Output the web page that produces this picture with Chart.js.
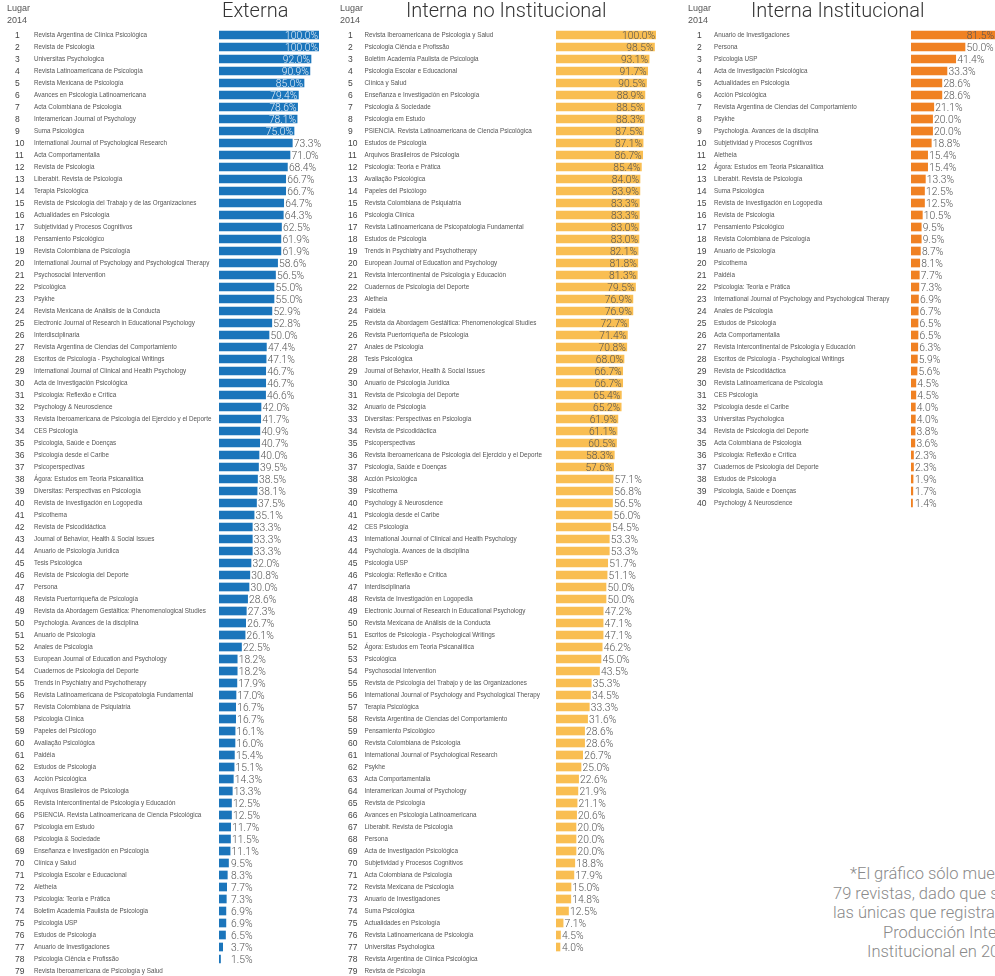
<!DOCTYPE html>
<html><head><meta charset="utf-8">
<script src="https://cdn.jsdelivr.net/npm/chart.js@4.4.1/dist/chart.umd.min.js"></script>
<style>
html,body{margin:0;padding:0;background:#fff;width:995px;height:976px;overflow:hidden;position:relative}
canvas{position:absolute;top:0}
.t{position:absolute;top:0;font-family:Roboto,'Liberation Sans',sans-serif;font-weight:300;font-size:20px;line-height:20px;color:#333;white-space:nowrap}
.lug{position:absolute;top:2px;font-family:'Liberation Sans',Arial,sans-serif;font-size:9px;line-height:12px;color:#555}
.note{position:absolute;font-family:Roboto,'Liberation Sans',sans-serif;font-weight:300;font-size:16.5px;line-height:19.5px;color:#8a8a8a;white-space:nowrap}
</style></head><body>
<canvas id="c1" width="330" height="980" style="left:0"></canvas>
<canvas id="c2" width="330" height="980" style="left:335px"></canvas>
<canvas id="c3" width="340" height="520" style="left:685px"></canvas>
<div class="lug" style="left:7px">Lugar<br>2014</div>
<div class="lug" style="left:340px">Lugar<br>2014</div>
<div class="lug" style="left:688px">Lugar<br>2014</div>
<div class="t" style="left:222px">Externa</div>
<div class="t" style="left:406px">Interna no Institucional</div>
<div class="t" style="left:751px">Interna Institucional</div>
<div class="note" style="left:850px;top:864px">*El gráfico sólo muestra 40 de las</div>
<div class="note" style="left:833px;top:883.5px">79 revistas, dado que son</div>
<div class="note" style="left:833px;top:903px">las únicas que registraron</div>
<div class="note" style="left:883px;top:922.5px">Producción Interna</div>
<div class="note" style="left:867px;top:942px">Institucional en 2014</div>
<script>
const lugar = [1,2,3,4,5,6,7,8,9,10,11,12,13,14,15,16,17,18,19,20,21,22,23,24,25,26,27,28,29,30,31,32,33,34,35,36,37,38,39,40,41,42,43,44,45,46,47,48,49,50,51,52,53,54,55,56,57,58,59,60,61,62,63,64,65,66,67,68,69,70,71,72,73,74,75,76,77,78,79];

const revistasExterna = [
"Revista Argentina de Clínica Psicológica","Revista de Psicología","Universitas Psychologica","Revista Latinoamericana de Psicología","Revista Mexicana de Psicología",
"Avances en Psicología Latinoamericana","Acta Colombiana de Psicología","Interamerican Journal of Psychology","Suma Psicológica","International Journal of Psychological Research",
"Acta Comportamentalia","Revista de Psicología","Liberabit. Revista de Psicología","Terapia Psicológica","Revista de Psicología del Trabajo y de las Organizaciones",
"Actualidades en Psicología","Subjetividad y Procesos Cognitivos","Pensamiento Psicológico","Revista Colombiana de Psicología","International Journal of Psychology and Psychological Therapy",
"Psychosocial Intervention","Psicológica","Psykhe","Revista Mexicana de Análisis de la Conducta","Electronic Journal of Research in Educational Psychology",
"Interdisciplinaria","Revista Argentina de Ciencias del Comportamiento","Escritos de Psicología - Psychological Writings","International Journal of Clinical and Health Psychology","Acta de Investigación Psicológica",
"Psicologia: Reflexão e Crítica","Psychology & Neuroscience","Revista Iberoamericana de Psicología del Ejercicio y el Deporte","CES Psicología","Psicologia, Saúde e Doenças",
"Psicología desde el Caribe","Psicoperspectivas","Ágora: Estudos em Teoria Psicanalítica","Diversitas: Perspectivas en Psicología","Revista de Investigación en Logopedia",
"Psicothema","Revista de Psicodidáctica","Journal of Behavior, Health & Social Issues","Anuario de Psicología Jurídica","Tesis Psicológica",
"Revista de Psicología del Deporte","Persona","Revista Puertorriqueña de Psicología","Revista da Abordagem Gestáltica: Phenomenological Studies","Psychologia. Avances de la disciplina",
"Anuario de Psicología","Anales de Psicología","European Journal of Education and Psychology","Cuadernos de Psicología del Deporte","Trends in Psychiatry and Psychotherapy",
"Revista Latinoamericana de Psicopatologia Fundamental","Revista Colombiana de Psiquiatría","Psicologia Clínica","Papeles del Psicólogo","Avaliação Psicológica",
"Paidéia","Estudos de Psicologia","Acción Psicológica","Arquivos Brasileiros de Psicologia","Revista Intercontinental de Psicología y Educación",
"PSIENCIA. Revista Latinoamericana de Ciencia Psicológica","Psicologia em Estudo","Psicologia & Sociedade","Enseñanza e Investigación en Psicología","Clínica y Salud",
"Psicologia Escolar e Educacional","Aletheia","Psicologia: Teoria e Prática","Boletim Academia Paulista de Psicologia","Psicologia USP",
"Estudos de Psicologia","Anuario de Investigaciones","Psicologia Ciência e Profissão","Revista Iberoamericana de Psicología y Salud"];
const valoresExterna = [100.0,100.0,92.0,90.9,85.0,79.4,78.6,78.1,75.0,73.3,
71.0,68.4,66.7,66.7,64.7,64.3,62.5,61.9,61.9,58.6,
56.5,55.0,55.0,52.9,52.8,50.0,47.4,47.1,46.7,46.7,
46.6,42.0,41.7,40.9,40.7,40.0,39.5,38.5,38.1,37.5,
35.1,33.3,33.3,33.3,32.0,30.8,30.0,28.6,27.3,26.7,
26.1,22.5,18.2,18.2,17.9,17.0,16.7,16.7,16.1,16.0,
15.4,15.1,14.3,13.3,12.5,12.5,11.7,11.5,11.1,9.5,
8.3,7.7,7.3,6.9,6.9,6.5,3.7,1.5,null];

const revistasNoInst = [
"Revista Iberoamericana de Psicología y Salud","Psicologia Ciência e Profissão","Boletim Academia Paulista de Psicologia","Psicologia Escolar e Educacional","Clínica y Salud",
"Enseñanza e Investigación en Psicología","Psicologia & Sociedade","Psicologia em Estudo","PSIENCIA. Revista Latinoamericana de Ciencia Psicológica","Estudos de Psicologia",
"Arquivos Brasileiros de Psicologia","Psicologia: Teoria e Prática","Avaliação Psicológica","Papeles del Psicólogo","Revista Colombiana de Psiquiatría",
"Psicologia Clínica","Revista Latinoamericana de Psicopatologia Fundamental","Estudos de Psicologia","Trends in Psychiatry and Psychotherapy","European Journal of Education and Psychology",
"Revista Intercontinental de Psicología y Educación","Cuadernos de Psicología del Deporte","Aletheia","Paidéia","Revista da Abordagem Gestáltica: Phenomenological Studies",
"Revista Puertorriqueña de Psicología","Anales de Psicología","Tesis Psicológica","Journal of Behavior, Health & Social Issues","Anuario de Psicología Jurídica",
"Revista de Psicología del Deporte","Anuario de Psicología","Diversitas: Perspectivas en Psicología","Revista de Psicodidáctica","Psicoperspectivas",
"Revista Iberoamericana de Psicología del Ejercicio y el Deporte","Psicologia, Saúde e Doenças","Acción Psicológica","Psicothema","Psychology & Neuroscience",
"Psicología desde el Caribe","CES Psicología","International Journal of Clinical and Health Psychology","Psychologia. Avances de la disciplina","Psicologia USP",
"Psicologia: Reflexão e Crítica","Interdisciplinaria","Revista de Investigación en Logopedia","Electronic Journal of Research in Educational Psychology","Revista Mexicana de Análisis de la Conducta",
"Escritos de Psicología - Psychological Writings","Ágora: Estudos em Teoria Psicanalítica","Psicológica","Psychosocial Intervention","Revista de Psicología del Trabajo y de las Organizaciones",
"International Journal of Psychology and Psychological Therapy","Terapia Psicológica","Revista Argentina de Ciencias del Comportamiento","Pensamiento Psicológico","Revista Colombiana de Psicología",
"International Journal of Psychological Research","Psykhe","Acta Comportamentalia","Interamerican Journal of Psychology","Revista de Psicología",
"Avances en Psicología Latinoamericana","Liberabit. Revista de Psicología","Persona","Acta de Investigación Psicológica","Subjetividad y Procesos Cognitivos",
"Acta Colombiana de Psicología","Revista Mexicana de Psicología","Anuario de Investigaciones","Suma Psicológica","Actualidades en Psicología",
"Revista Latinoamericana de Psicología","Universitas Psychologica","Revista Argentina de Clínica Psicológica","Revista de Psicología"];
const valoresNoInst = [100.0,98.5,93.1,91.7,90.5,88.9,88.5,88.3,87.5,87.1,
86.7,85.4,84.0,83.9,83.3,83.3,83.0,83.0,82.1,81.8,
81.3,79.5,76.9,76.9,72.7,71.4,70.8,68.0,66.7,66.7,
65.4,65.2,61.9,61.1,60.5,58.3,57.6,57.1,56.8,56.5,
56.0,54.5,53.3,53.3,51.7,51.1,50.0,50.0,47.2,47.1,
47.1,46.2,45.0,43.5,35.3,34.5,33.3,31.6,28.6,28.6,
26.7,25.0,22.6,21.9,21.1,20.6,20.0,20.0,20.0,18.8,
17.9,15.0,14.8,12.5,7.1,4.5,4.0,null,null];

const revistasInst = [
"Anuario de Investigaciones","Persona","Psicologia USP","Acta de Investigación Psicológica","Actualidades en Psicología",
"Acción Psicológica","Revista Argentina de Ciencias del Comportamiento","Psykhe","Psychologia. Avances de la disciplina","Subjetividad y Procesos Cognitivos",
"Aletheia","Ágora: Estudos em Teoria Psicanalítica","Liberabit. Revista de Psicología","Suma Psicológica","Revista de Investigación en Logopedia",
"Revista de Psicología","Pensamiento Psicológico","Revista Colombiana de Psicología","Anuario de Psicología","Psicothema",
"Paidéia","Psicologia: Teoria e Prática","International Journal of Psychology and Psychological Therapy","Anales de Psicología","Estudos de Psicologia",
"Acta Comportamentalia","Revista Intercontinental de Psicología y Educación","Escritos de Psicología - Psychological Writings","Revista de Psicodidáctica","Revista Latinoamericana de Psicología",
"CES Psicología","Psicología desde el Caribe","Universitas Psychologica","Revista de Psicología del Deporte","Acta Colombiana de Psicología",
"Psicologia: Reflexão e Crítica","Cuadernos de Psicología del Deporte","Estudos de Psicologia","Psicologia, Saúde e Doenças","Psychology & Neuroscience"];
const valoresInst = [81.5,50.0,41.4,33.3,28.6,28.6,21.1,20.0,20.0,18.8,
15.4,15.4,13.3,12.5,12.5,10.5,9.5,9.5,8.7,8.1,
7.7,7.3,6.9,6.7,6.5,6.5,6.3,5.9,5.6,4.5,
4.5,4.0,4.0,3.8,3.6,2.3,2.3,1.9,1.7,1.4];

const rowText = {
  id: 'rowText',
  afterDatasetsDraw(chart, args, o) {
    const ctx = chart.ctx, ys = chart.scales.y, xs = chart.scales.x;
    const vals = chart.data.datasets[0].data;
    ctx.save();
    ctx.textBaseline = 'middle';
    chart.data.labels.forEach((name, i) => {
      const py = ys.getPixelForValue(i) + 0.5;
      ctx.textAlign = 'left';
      ctx.font = '8.5px "Liberation Sans", Arial, sans-serif';
      ctx.fillStyle = '#444';
      ctx.fillText(String(o.ranks[i]), o.rankX, py);
      ctx.font = '6.3px "Liberation Sans", Arial, sans-serif';
      ctx.fillStyle = '#555';
      ctx.fillText(name, o.nameX, py);
      const v = vals[i];
      if (v == null) return;
      const txt = v.toFixed(1) + '%';
      const end = xs.getPixelForValue(v);
      ctx.font = '300 10.3px Roboto, "Liberation Sans", Arial, sans-serif';
      if (v >= o.insideMin) {
        ctx.textAlign = 'right';
        ctx.fillStyle = o.insideColor;
        ctx.fillText(txt, Math.min(end - 1, o.maxRight), py + 1);
      } else {
        ctx.textAlign = 'left';
        ctx.fillStyle = '#555';
        ctx.fillText(txt, Math.max(end + 1.5, o.minLabelX), py + 1);
      }
    });
    ctx.restore();
  }
};

function makeChart(id, names, values, color, o) {
  return new Chart(document.getElementById(id), {
    type: 'bar',
    data: { labels: names, datasets: [{ data: values, backgroundColor: color, barThickness: 8, borderWidth: 0 }] },
    options: {
      indexAxis: 'y', responsive: false, animation: false, events: [],
      layout: { padding: o.pad },
      scales: { x: { display: false, min: 0, max: 100 }, y: { display: false } },
      plugins: { legend: { display: false }, tooltip: { enabled: false }, rowText: o }
    },
    plugins: [rowText]
  });
}

makeChart('c1', revistasExterna, valoresExterna, '#1B75BB', {
  pad: { top: 29, bottom: 3, left: 219, right: 11 },
  ranks: lugar, rankX: 15, nameX: 34, insideMin: 75, insideColor: '#e6eff8', maxRight: 329, minLabelX: 231
});
makeChart('c2', revistasNoInst, valoresNoInst, '#F9BE52', {
  pad: { top: 29, bottom: 3, left: 221, right: 9 },
  ranks: lugar, rankX: 13, nameX: 29.5, insideMin: 57.5, insideColor: '#555', maxRight: 329, minLabelX: 227
});
makeChart('c3', revistasInst, valoresInst, '#F08122', {
  pad: { top: 29, bottom: 11, left: 226, right: 6 },
  ranks: lugar, rankX: 12, nameX: 29, insideMin: 80, insideColor: '#555', maxRight: 309, minLabelX: 230
});
</script>
</body></html>
